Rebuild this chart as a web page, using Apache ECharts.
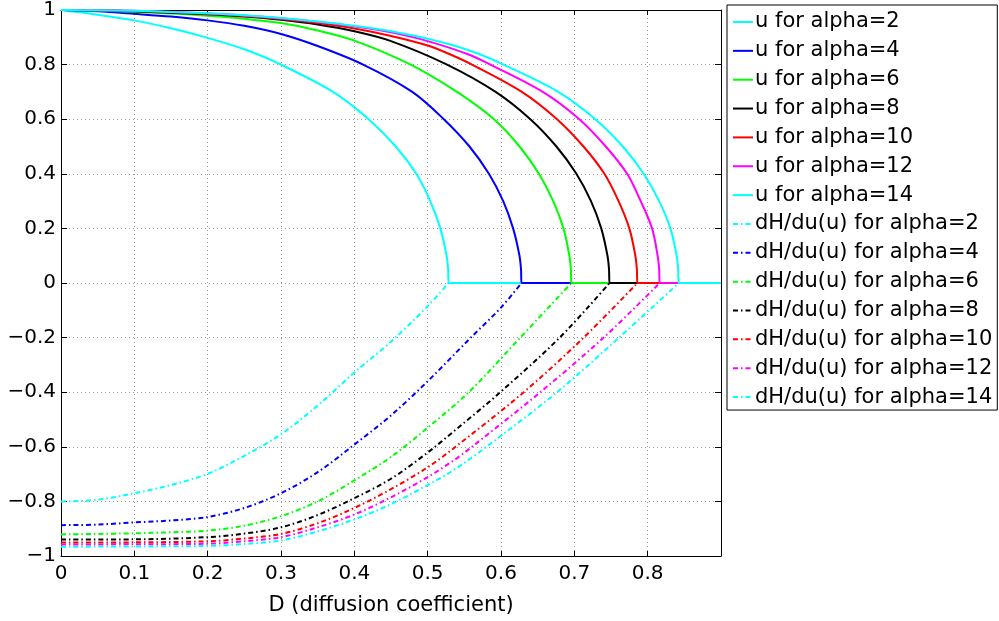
<!DOCTYPE html>
<html><head><meta charset="utf-8">
<script src="https://cdn.jsdelivr.net/npm/echarts@6/dist/echarts.min.js"></script>
<style>html,body{margin:0;padding:0;background:#fff}#c{width:999px;height:621px}</style>
</head><body><div id="c"></div>
<script>
// ---- data: [D, value] ----
const alphas = [2, 4, 6, 8, 10, 12, 14];
const colors = ['#00FFFF', '#0000FF', '#00FF00', '#000000', '#FF0000', '#FF00FF', '#00FFFF'];

const u_a2 = [[0,1],[0.05,0.983],[0.1,0.962],[0.15,0.933],[0.2,0.898],[0.25,0.856],[0.3,0.8],[0.371,0.7],[0.4195,0.6],[0.4565,0.5],[0.4845,0.4],[0.5035,0.3],[0.5173,0.2],[0.5258,0.1],[0.5279,0.05],[0.5286,0],[0.5286,0],[0.9,0]];
const u_a4 = [[0,1],[0.05,0.995],[0.1,0.986],[0.15,0.976],[0.2,0.962],[0.25,0.942],[0.3,0.912],[0.35,0.868],[0.412,0.8],[0.479,0.7],[0.522,0.6],[0.557,0.5],[0.5835,0.4],[0.603,0.3],[0.6165,0.2],[0.6252,0.1],[0.6273,0.05],[0.628,0],[0.628,0],[0.9,0]];
const u_a6 = [[0,1],[0.05,0.998],[0.1,0.993],[0.15,0.987],[0.2,0.979],[0.25,0.968],[0.3,0.952],[0.35,0.925],[0.4,0.888],[0.4768,0.8],[0.54,0.7],[0.5905,0.6],[0.6253,0.5],[0.6517,0.4],[0.6712,0.3],[0.6852,0.2],[0.6932,0.1],[0.6953,0.05],[0.696,0],[0.696,0],[0.9,0]];
const u_a8 = [[0,1],[0.05,0.999],[0.1,0.995],[0.15,0.99],[0.2,0.984],[0.25,0.976],[0.3,0.964],[0.35,0.947],[0.4,0.922],[0.45,0.886],[0.5264,0.8],[0.5927,0.7],[0.64,0.6],[0.6756,0.5],[0.7028,0.4],[0.7227,0.3],[0.7367,0.2],[0.7452,0.1],[0.7473,0.05],[0.748,0],[0.748,0],[0.9,0]];
const u_a10 = [[0,1],[0.05,0.999],[0.1,0.996],[0.15,0.992],[0.2,0.986],[0.25,0.978],[0.3,0.967],[0.35,0.952],[0.4,0.932],[0.45,0.905],[0.5,0.87],[0.531,0.837],[0.5605,0.8],[0.6284,0.7],[0.6764,0.6],[0.7125,0.5],[0.741,0.4],[0.7603,0.3],[0.775,0.2],[0.7832,0.1],[0.7853,0.05],[0.786,0],[0.786,0],[0.9,0]];
const u_a12 = [[0,1],[0.05,0.999],[0.1,0.997],[0.15,0.993],[0.2,0.987],[0.25,0.98],[0.3,0.97],[0.35,0.957],[0.4,0.94],[0.45,0.918],[0.5,0.886],[0.556,0.837],[0.5855,0.8],[0.657,0.7],[0.7068,0.6],[0.7429,0.5],[0.772,0.4],[0.7905,0.3],[0.806,0.2],[0.8136,0.1],[0.8157,0.05],[0.8164,0],[0.8164,0],[0.9,0]];
const u_a14 = [[0,1],[0.05,0.999],[0.1,0.997],[0.15,0.993],[0.2,0.988],[0.25,0.981],[0.3,0.971],[0.35,0.958],[0.4,0.942],[0.4627,0.916],[0.5,0.895],[0.538,0.868],[0.5718,0.837],[0.6036,0.8],[0.678,0.7],[0.7286,0.6],[0.7661,0.5],[0.7945,0.4],[0.8157,0.3],[0.831,0.2],[0.8395,0.1],[0.8416,0.05],[0.8423,0],[0.8423,0],[0.9,0]];

const dH_a2 = [[0,-0.8],[0.05,-0.794],[0.1,-0.77],[0.15,-0.74],[0.2,-0.699],[0.25,-0.633],[0.3,-0.554],[0.35,-0.449],[0.4,-0.328],[0.45,-0.215],[0.5,-0.085],[0.5286,0]];
const dH_a4 = [[0,-0.887],[0.05,-0.885],[0.1,-0.877],[0.15,-0.87],[0.2,-0.857],[0.25,-0.824],[0.3,-0.77],[0.35,-0.693],[0.4,-0.592],[0.45,-0.485],[0.5,-0.36],[0.5588,-0.2],[0.6,-0.09],[0.628,0]];
const dH_a6 = [[0,-0.921],[0.1,-0.917],[0.15,-0.913],[0.2,-0.907],[0.25,-0.889],[0.3,-0.854],[0.35,-0.80],[0.4,-0.723],[0.45,-0.637],[0.5,-0.53],[0.556,-0.4],[0.6263,-0.2],[0.696,0]];
const dH_a8 = [[0,-0.94],[0.1,-0.939],[0.2,-0.931],[0.25,-0.918],[0.3,-0.895],[0.35,-0.85],[0.4,-0.788],[0.45,-0.717],[0.5,-0.621],[0.538,-0.538],[0.599,-0.4],[0.68,-0.2],[0.748,0]];
const dH_a10 = [[0,-0.951],[0.1,-0.95],[0.2,-0.946],[0.25,-0.936],[0.3,-0.919],[0.35,-0.88],[0.4,-0.824],[0.45,-0.755],[0.5,-0.675],[0.538,-0.6],[0.631,-0.4],[0.7127,-0.2],[0.786,0]];
const dH_a12 = [[0,-0.958],[0.1,-0.957],[0.2,-0.955],[0.25,-0.946],[0.3,-0.931],[0.35,-0.895],[0.4,-0.848],[0.45,-0.785],[0.5,-0.711],[0.538,-0.645],[0.558,-0.605],[0.6536,-0.4],[0.74,-0.2],[0.8164,0]];
const dH_a14 = [[0,-0.966],[0.1,-0.965],[0.2,-0.963],[0.25,-0.956],[0.3,-0.943],[0.35,-0.91],[0.4,-0.866],[0.45,-0.81],[0.5,-0.74],[0.538,-0.681],[0.58,-0.6],[0.6764,-0.4],[0.761,-0.2],[0.8423,0]];

const uCurves = [u_a2, u_a4, u_a6, u_a8, u_a10, u_a12, u_a14];
const dHCurves = [dH_a2, dH_a4, dH_a6, dH_a8, dH_a10, dH_a12, dH_a14];
const xLabel = 'D (diffusion coefficient)';

// ---- chart ----
const FONT = 'DejaVu Sans, sans-serif';
const series = [];
alphas.forEach((a, i) => {
  series.push({
    name: 'u for alpha=' + a, type: 'line', data: uCurves[i],
    symbol: 'none', smooth: 0.33, clip: true,
    lineStyle: { color: colors[i], width: 2 }, itemStyle: { color: colors[i] }
  });
});
alphas.forEach((a, i) => {
  series.push({
    name: 'dH/du(u) for alpha=' + a, type: 'line', data: dHCurves[i],
    symbol: 'none', smooth: 0.33, clip: true,
    lineStyle: { color: colors[i], width: 2, type: [5, 3, 1.5, 3] }, itemStyle: { color: colors[i] }
  });
});

const fmtNum = v => {
  const r = Math.round(v * 10) / 10;
  let s = Number.isInteger(r) ? String(r) : r.toFixed(1);
  return s.replace('-', '\u2212');
};

const chart = echarts.init(document.getElementById('c'), null, { renderer: 'canvas' });
chart.setOption({
  animation: false,
  backgroundColor: '#fff',
  textStyle: { fontFamily: FONT },
  grid: { left: 61, top: 4, right: 278, bottom: 57, containLabel: false },
  legend: {
    orient: 'vertical', left: 727, top: 5,
    padding: [6, 5, 2, 5],
    itemWidth: 20, itemHeight: 22, itemGap: 6.85,
    borderColor: '#000', borderWidth: 1, backgroundColor: '#fff',
    itemStyle: { opacity: 0 },
    textStyle: { fontSize: 21, color: '#000', fontFamily: FONT, lineHeight: 22, padding: [0, 0, 0, -3] },
    data: series.map(s => s.name)
  },
  xAxis: [{
    type: 'value', min: 0, max: 0.9, interval: 0.1, position: 'bottom',
    name: xLabel, nameLocation: 'middle', nameGap: 39,
    nameTextStyle: { fontSize: 21, color: '#000', fontFamily: FONT },
    axisLine: { show: true, onZero: false, lineStyle: { color: '#000', width: 1 } },
    axisTick: { show: true, inside: true, length: 5, lineStyle: { color: '#000' } },
    axisLabel: { fontSize: 20, color: '#000', margin: 8, showMaxLabel: false, formatter: fmtNum, fontFamily: FONT },
    splitLine: { show: true, lineStyle: { color: '#9a9a9a', type: [1, 3], width: 1 } }
  }, {
    type: 'value', min: 0, max: 0.9, interval: 0.1, position: 'top',
    axisLine: { show: true, onZero: false, lineStyle: { color: '#000', width: 1 } },
    axisTick: { show: true, inside: true, length: 5, lineStyle: { color: '#000' } },
    axisLabel: { show: false }, splitLine: { show: false }
  }],
  yAxis: [{
    type: 'value', min: -1, max: 1, interval: 0.2, position: 'left',
    axisLine: { show: true, onZero: false, lineStyle: { color: '#000', width: 1 } },
    axisTick: { show: true, inside: true, length: 6, lineStyle: { color: '#000' } },
    axisLabel: { fontSize: 20, color: '#000', margin: 5, formatter: fmtNum, fontFamily: FONT },
    splitLine: { show: true, lineStyle: { color: '#9a9a9a', type: [1, 3], width: 1 } }
  }, {
    type: 'value', min: -1, max: 1, interval: 0.2, position: 'right',
    axisLine: { show: true, onZero: false, lineStyle: { color: '#000', width: 1 } },
    axisTick: { show: true, inside: true, length: 6, lineStyle: { color: '#000' } },
    axisLabel: { show: false }, splitLine: { show: false }
  }],
  series: series
});
</script>
</body></html>
